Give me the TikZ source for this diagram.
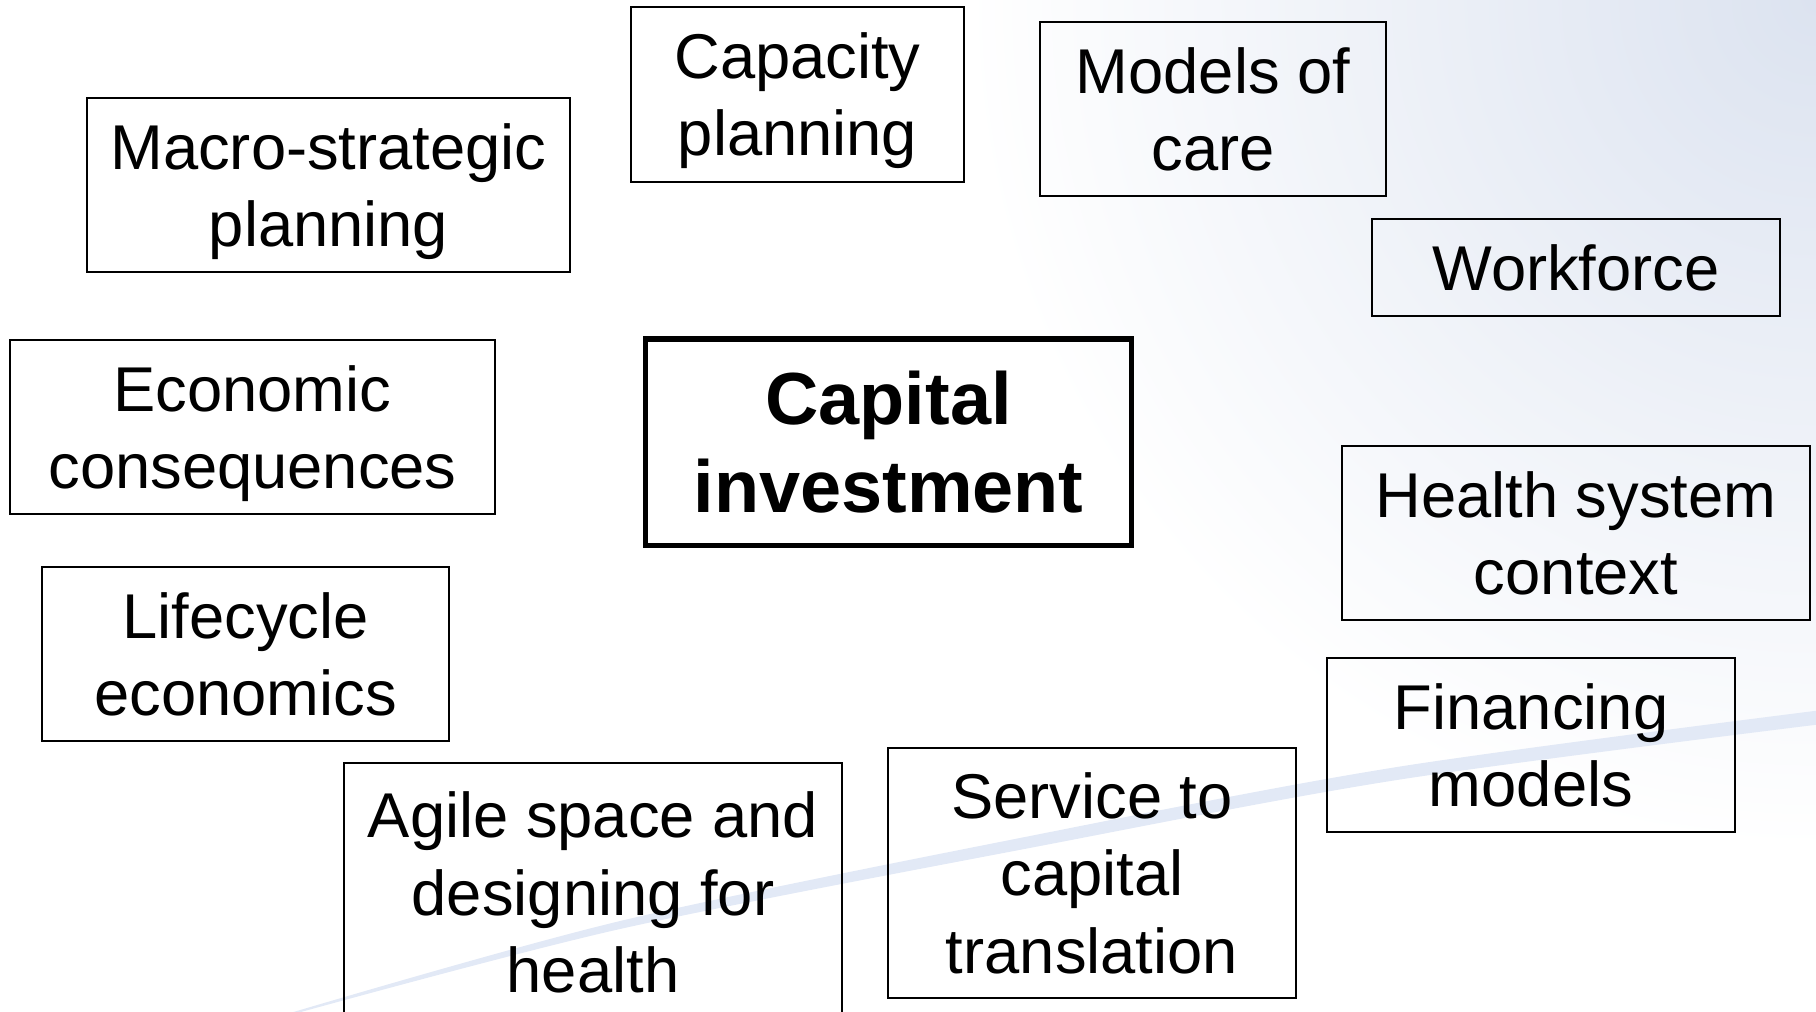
\documentclass[tikz,border=0pt]{standalone}
\usepackage{fontspec}
\setmainfont{Liberation Sans}
\usepackage{xcolor}
\usepackage{tikz}
\definecolor{cornerTint}{RGB}{220,227,240}
\definecolor{swooshBlue}{RGB}{226,233,246}
% struts so the text sits like the slide text
\newcommand{\tstrut}{\rule{0pt}{0.95em}}
\newcommand{\bstrut}{\rule[-0.23em]{0pt}{0.23em}}
\tikzset{
  topicbox/.style={draw=black, line width=0.57pt, inner sep=0pt, align=center,
    font=\fontsize{18}{22}\selectfont},
  hubbox/.style={topicbox, line width=1.45pt, font=\fontsize{21}{25}\selectfont\bfseries}
}

\begin{document}
\begin{tikzpicture}[x=0.01cm, y=-0.01cm]
        \useasboundingbox (0,0) rectangle (1816,1011);
        \clip (0,0) rectangle (1816,1011);
        % Light tint in the upper right corner
        \shade[inner color=cornerTint, outer color=white] (1816,0) circle (850);
        % Pale swoosh behind the boxes
        \fill[swooshBlue] plot[smooth] coordinates {(290,1013) (620,921) (1040,834) (1400,766.5) (1830,709)}
          -- plot[smooth] coordinates {(1830,723) (1400,779.5) (1040,846) (620,929) (290,1015)} -- cycle;
        % Centre box
        \node[hubbox, minimum width=4.85cm, minimum height=2.06cm] (capital) at (888.5,442) {\tstrut Capital\\investment\bstrut};
        % Surrounding topics
        \node[topicbox, minimum width=4.83cm, minimum height=1.74cm] (macro) at (328.5,185) {\tstrut Macro-strategic\\planning\bstrut};
        \node[topicbox, minimum width=3.33cm, minimum height=1.75cm] (capacity) at (797.5,94.5) {\tstrut Capacity\\planning\bstrut};
        \node[topicbox, minimum width=3.46cm, minimum height=1.74cm] (models) at (1213,109) {\tstrut Models of\\care\bstrut};
        \node[topicbox, minimum width=4.08cm, minimum height=0.97cm] (workforce) at (1576,267.5) {\tstrut Workforce\bstrut};
        \node[topicbox, minimum width=4.85cm, minimum height=1.74cm] (economic) at (252.5,427) {\tstrut Economic\\consequences\bstrut};
        \node[topicbox, minimum width=4.68cm, minimum height=1.74cm] (health) at (1576,533) {\tstrut Health system\\context\bstrut};
        \node[topicbox, minimum width=4.07cm, minimum height=1.74cm] (lifecycle) at (245.5,654) {\tstrut Lifecycle\\economics\bstrut};
        \node[topicbox, minimum width=4.08cm, minimum height=1.74cm] (financing) at (1531,745) {\tstrut Financing\\models\bstrut};
        \node[topicbox, minimum width=4.98cm, minimum height=2.59cm] (agile) at (593,892.5) {\tstrut Agile space and\\designing for\\health\bstrut};
        \node[topicbox, minimum width=4.08cm, minimum height=2.50cm] (service) at (1092,873) {\tstrut Service to\\capital\\translation\bstrut};
    \end{tikzpicture}
\end{document}
